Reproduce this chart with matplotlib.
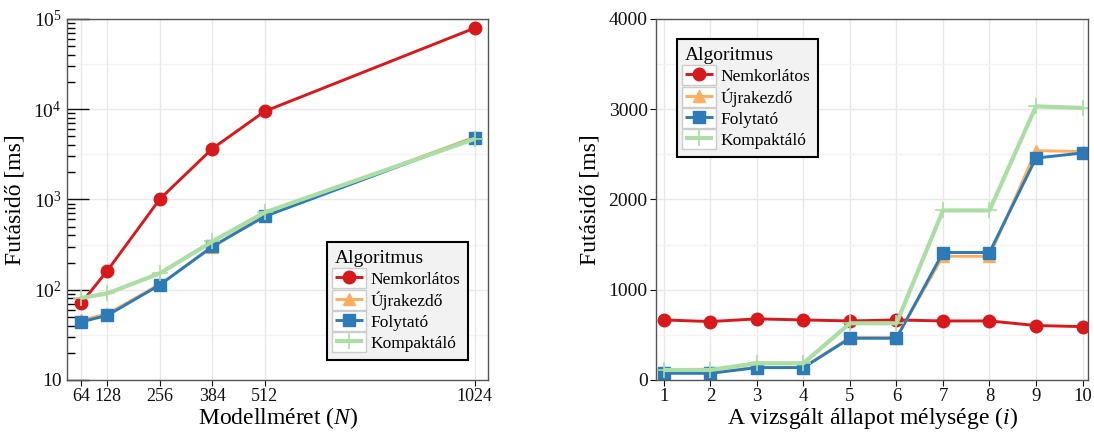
import numpy as np
import matplotlib
matplotlib.use("Agg")
import matplotlib.pyplot as plt
from matplotlib.ticker import FixedLocator, FuncFormatter, LogLocator, MultipleLocator, NullFormatter
from matplotlib.legend_handler import HandlerLine2D
from matplotlib.patches import Rectangle

plt.rcParams['font.family'] = ['Liberation Serif', 'DejaVu Serif']
plt.rcParams['mathtext.fontset'] = 'custom'
plt.rcParams['mathtext.rm'] = 'Liberation Serif'
plt.rcParams['mathtext.it'] = 'Liberation Serif:italic'

# adatok
algos = ["Nemkorlátos", "Újrakezdő", "Folytató", "Kompaktáló"]
colors = ["#d7191c", "#fdae61", "#2c7bb6", "#abdda4"]
markers = ["o", "^", "s", "+"]

model_sizes = [64, 128, 256, 384, 512, 1024]
size_nemkorlatos = [71, 163, 1010, 3650, 9460, 78900]
size_ujrakezdo = [46, 54, 115, 295, 680, 4900]
size_folytato = [44, 52, 113, 301, 648, 4790]
size_kompaktalo = [81, 91, 152, 342, 718, 4670]

depths = [1, 2, 3, 4, 5, 6, 7, 8, 9, 10]
depth_nemkorlatos = [665, 647, 677, 665, 654, 665, 654, 654, 603, 591]
depth_ujrakezdo = [82, 82, 140, 140, 470, 470, 1370, 1370, 2540, 2530]
depth_folytato = [74, 74, 137, 137, 462, 462, 1412, 1412, 2458, 2514]
depth_kompaktalo = [111, 111, 185, 185, 628, 628, 1878, 1878, 3031, 3013]

size_series = [size_nemkorlatos, size_ujrakezdo, size_folytato, size_kompaktalo]
depth_series = [depth_nemkorlatos, depth_ujrakezdo, depth_folytato, depth_kompaktalo]


class BoxedHandler(HandlerLine2D):
    # legend key with a light box around it
    def create_artists(self, legend, orig_handle, xdescent, ydescent,
                       width, height, fontsize, trans):
        arts = super().create_artists(legend, orig_handle, xdescent, ydescent,
                                      width, height, fontsize, trans)
        box = Rectangle((-xdescent - 2, -ydescent - 1.7), width + 4, height + 3.4,
                        facecolor="white", edgecolor="#cccccc", lw=1.0,
                        transform=trans)
        return [box] + arts


def draw(ax, x, series):
    for name, c, m, y in zip(algos, colors, markers, series):
        lw = 3.0 if m == "+" else 2.1
        ms = 12 if m == "+" else 9
        ax.plot(x, y, color=c, marker=m, lw=lw, ms=ms, mew=1.2 if m == "+" else 1,
                label=name, solid_capstyle="butt")


def style(ax):
    for s in ax.spines.values():
        s.set_color("#555555")
        s.set_linewidth(1.0)
    ax.grid(True, which="major", color="#e8e8e8", lw=1.0)
    ax.set_axisbelow(True)
    ax.tick_params(labelsize=14, colors="#111111")
    ax.tick_params(axis="x", length=4, width=0.8, pad=2, labelsize=13.5)
    ax.set_ylabel("Futásidő [ms]", fontsize=17, labelpad=6)


def legend(ax, loc, anchor):
    handles, labels = ax.get_legend_handles_labels()
    leg = ax.legend(handles, labels, title="Algoritmus", loc=loc, bbox_to_anchor=anchor,
                    fontsize=12.5, title_fontsize=14, frameon=True, fancybox=False,
                    edgecolor="black", facecolor="#f2f2f2", framealpha=1,
                    handlelength=1.6, handleheight=1.0, labelspacing=0.2,
                    handletextpad=0.45, borderpad=0.45, borderaxespad=0,
                    alignment="left",
                    handler_map={h: BoxedHandler() for h in handles})
    leg.get_frame().set_linewidth(1.5)


fig = plt.figure(figsize=(10.94, 4.32), dpi=100)
ax1 = fig.add_axes([0.0615, 0.1204, 0.385, 0.836])
ax2 = fig.add_axes([0.5996, 0.1204, 0.395, 0.836])

# bal: modellméret
draw(ax1, model_sizes, size_series)
ax1.set_yscale("log")
ax1.set_ylim(10, 1e5)
ax1.set_xlim(30, 1058)
ax1.set_xticks(model_sizes)
ax1.tick_params(axis="x", labelsize=13)
ax1.yaxis.set_major_locator(FixedLocator([10, 100, 1000, 10000, 100000]))
ax1.yaxis.set_major_formatter(FuncFormatter(
    lambda v, p: "10" if v < 11 else r"$10^{%d}$" % round(np.log10(v))))
ax1.yaxis.set_minor_locator(LogLocator(base=10, subs=np.arange(2, 10)))
ax1.yaxis.set_minor_formatter(NullFormatter())
style(ax1)
ax1.tick_params(axis="x", labelsize=13)
ax1.tick_params(axis="y", which="major", direction="in", length=16, width=1.0, pad=4)
ax1.tick_params(axis="y", which="minor", direction="in", length=6, width=1.0)
for k in range(1, 5):
    ax1.axhline(10 ** (k + 0.5), color="#f3f3f3", lw=1.0, zorder=0)
ax1.set_xlabel("Modellméret ($N$)", fontsize=17, labelpad=0)
legend(ax1, "lower right", (0.952, 0.055))

# jobb: mélység
draw(ax2, depths, depth_series)
ax2.set_ylim(0, 4000)
ax2.set_xlim(0.83, 10.12)
ax2.set_xticks(depths)
ax2.yaxis.set_major_locator(MultipleLocator(1000))
ax2.yaxis.set_minor_locator(MultipleLocator(500))
style(ax2)
ax2.grid(True, which="minor", axis="y", color="#f3f3f3", lw=1.0)
ax2.tick_params(axis="y", which="major", length=4, width=0.8, pad=2)
ax2.tick_params(axis="y", which="minor", length=0)
ax2.set_xlabel("A vizsgált állapot mélysége ($i$)", fontsize=17, labelpad=0)
legend(ax2, "upper left", (0.049, 0.945))

fig.savefig("out.png", dpi=100)
